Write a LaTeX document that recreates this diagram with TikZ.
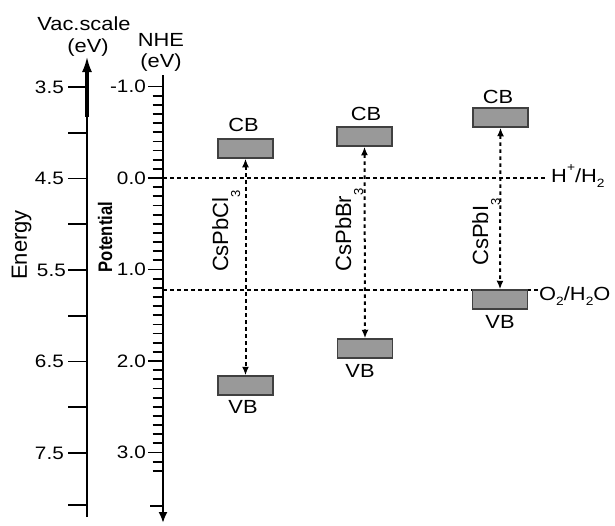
\documentclass[tikz,border=0pt]{standalone}
\usepackage{fontspec}
\usepackage{graphicx}
\setmainfont{Liberation Sans}
\usetikzlibrary{arrows.meta}
\begin{document}
\begin{tikzpicture}[x=1pt,y=-1pt,
  axisline/.style={line width=2pt,black},
  tickmark/.style={line width=1.8pt,black},
  band/.style={draw=black!75,fill=black!40,line width=1.5pt,minimum width=55pt,minimum height=19pt,inner sep=0pt},
  lab/.style={font=\fontsize{19}{22}\selectfont, xscale=1.15, inner sep=0pt},
  ticklab/.style={font=\fontsize{18}{20}\selectfont, xscale=1.15, inner sep=0pt, anchor=east},
  dotline/.style={line width=2pt,dash pattern=on 3.5pt off 3.5pt},
  comp/.style={font=\fontsize{22}{26}\selectfont, rotate=90, anchor=base, inner sep=0pt},
  gaparrow/.style={arrows={Latex[length=8.5pt,width=7pt]-Latex[length=8.5pt,width=7pt]}},
]
\useasboundingbox (0,0) rectangle (615,525);

% ---------- left axis (vacuum scale) ----------
\coordinate (lbot) at (87,517);
\coordinate (ltop) at (87,57);
\draw[axisline,-{Latex[length=15pt,width=10pt]}] (lbot) -- (ltop);
\draw[line width=3.2pt] (87,70) -- (87,117);
\foreach \i in {0,...,8} {
  \draw[tickmark] (68,{87+\i*45.75}) -- (87,{87+\i*45.75});
}
\draw[tickmark] (68,505) -- (87,505);
\node[ticklab] (l35) at (64,87) {3.5};
\node[ticklab] (l45) at (64,178.5) {4.5};
\node[ticklab] (l55) at (66,270) {5.5};
\node[ticklab] (l65) at (64,361.5) {6.5};
\node[ticklab] (l75) at (64,453) {7.5};

\node[lab] (vac) at (84,24) {Vac.scale};
\node[lab] (vacev) at (88,48) {(eV)};
\node[comp] (energy) at (27,245) {Energy};

% ---------- right axis (NHE) ----------
\coordinate (ntop) at (163,75);
\coordinate (nbot) at (163,523);
\draw[axisline,-{Latex[length=11pt,width=9pt]}] (ntop) -- (nbot);
\foreach \i in {-10,...,32} {
  \draw[tickmark] (152.5,{178+\i*9.15}) -- (163,{178+\i*9.15});
}
\foreach \i in {-10,0,10,20,30} {
  \draw[tickmark] (148,{178+\i*9.15}) -- (163,{178+\i*9.15});
}
\draw[tickmark] (150,506) -- (163,506);
\node[ticklab] (nm1) at (146,86.5) {-1.0};
\node[ticklab] (n0) at (146,178) {0.0};
\node[ticklab] (n1) at (146,269.5) {1.0};
\node[ticklab] (n2) at (146,361) {2.0};
\node[ticklab] (n3) at (146,452.5) {3.0};

\node[lab] (nhe) at (161,40) {NHE};
\node[lab] (nheev) at (161,63) {(eV)};
\node[comp,font=\fontsize{17.5}{20}\selectfont\bfseries] (pot) at (112,237) {\scalebox{0.95}[1.12]{Potential}};

% ---------- redox levels ----------
\coordinate (hstart) at (163,178);
\coordinate (ostart) at (163,290);
\node[lab,anchor=base west] (hlab) at (551,182)
  {H\raisebox{11pt}{\fontsize{12}{12}\selectfont +}/H\raisebox{-5pt}{\fontsize{12}{12}\selectfont 2}};
\node[lab,anchor=base west] (olab) at (539,300)
  {O\raisebox{-5pt}{\fontsize{12}{12}\selectfont 2}/H\raisebox{-5pt}{\fontsize{12}{12}\selectfont 2}O};
\draw[dotline] (hstart) -- (545,178);
\draw[dotline] (ostart) -- (olab.west |- ostart);

% ---------- bands ----------
\node[band] (clcb) at (245.5,148.5) {};
\node[band] (clvb) at (245.5,385.5) {};
\node[band] (brcb) at (364.5,136.5) {};
\node[band] (brvb) at (365,348.5) {};
\node[band] (icb) at (500.5,117.5) {};
\node[band] (ivb) at (500,299.5) {};

\node[lab] (clcbl) at (243.5,125) {CB};
\node[lab] (brcbl) at (366,114) {CB};
\node[lab] (icbl) at (498,97) {CB};
\node[lab] (clvbl) at (243,407) {VB};
\node[lab] (brvbl) at (360,371) {VB};
\node[lab] (ivbl) at (500,322) {VB};

% ---------- gaps ----------
\draw[dotline,gaparrow] (clcb.south) -- (clvb.north);
\draw[dotline,gaparrow] (brcb.south) -- (brvb.north);
\draw[dotline,gaparrow] (icb.south) -- (ivb.north);

\node[comp] (cl) at (228,231) {CsPbCl\raisebox{-0.55em}{\fontsize{13}{13}\selectfont 3}};
\node[comp] (br) at (351,230) {CsPbBr\raisebox{-0.55em}{\fontsize{13}{13}\selectfont 3}};
\node[comp] (io) at (488,232) {CsPbI\raisebox{-0.55em}{\fontsize{13}{13}\selectfont 3}};
\end{tikzpicture}
\end{document}
